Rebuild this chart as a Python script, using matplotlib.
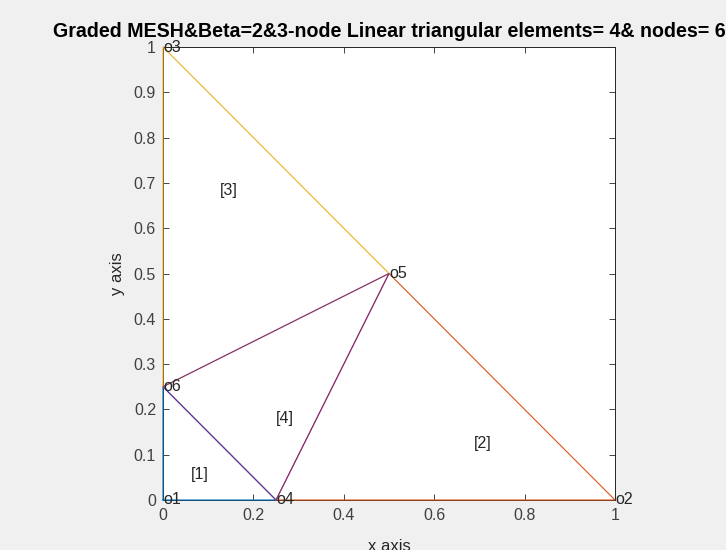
import matplotlib
matplotlib.use("Agg")
import matplotlib.pyplot as plt
import numpy as np

node_x = [0, 1, 0, 0.25, 0.5, 0]
node_y = [0, 0, 1, 0, 0.5, 0.25]
node_labels = ["o1", "o2", "o3", "o4", "o5", "o6"]
elements = [[1, 4, 6], [4, 2, 5], [6, 5, 3], [4, 5, 6]]
elem_colors = ["#0072BD", "#D95319", "#EDB120", "#7E2F8E"]
elem_label_x = [0.082, 0.708, 0.146, 0.270]
elem_label_y = [0.057, 0.124, 0.684, 0.181]
elem_labels = ["[1]", "[2]", "[3]", "[4]"]
x_ticks = [0, 0.2, 0.4, 0.6, 0.8, 1]
y_ticks = [0, 0.1, 0.2, 0.3, 0.4, 0.5, 0.6, 0.7, 0.8, 0.9, 1]
title = "Graded MESH&Beta=2&3-node Linear triangular elements= 4& nodes= 6"

plt.rcParams['font.family'] = ['Liberation Sans', 'DejaVu Sans']
fig = plt.figure(figsize=(7.26, 5.5), dpi=100, facecolor="#F0F0F0")
ax = fig.add_axes([163/726, 50/550, 452/726, 453/550])
ax.set_facecolor("white")

for k, (el, c) in enumerate(zip(elements, elem_colors)):
    idx = [i - 1 for i in el] + [el[0] - 1]
    ax.plot([node_x[i] for i in idx], [node_y[i] for i in idx], color=c,
            linewidth=0.8, clip_on=False, zorder=3 + 0.1 * k)

for x, y, t in zip(node_x, node_y, node_labels):
    ax.text(x, y, t, ha="left", va="center", fontsize=11.5, color="#262626",
            clip_on=False, zorder=4)

for x, y, t in zip(elem_label_x, elem_label_y, elem_labels):
    ax.text(x, y, t, ha="center", va="center", fontsize=11.5, color="#262626")

ax.set_xlim(0, 1)
ax.set_ylim(0, 1)
ax.set_xticks(x_ticks)
ax.set_yticks(y_ticks)
ax.set_xticklabels([f"{v:g}" for v in x_ticks])
ax.set_yticklabels([f"{v:g}" for v in y_ticks])
ax.tick_params(direction="in", length=4, width=0.6, colors="#262626",
               labelsize=11.5, top=True, right=True, labeltop=False, labelright=False)
ax.tick_params(axis="x", pad=6, labelcolor="#404040")
ax.tick_params(axis="y", pad=5, labelcolor="#404040")
for s in ax.spines.values():
    s.set_color("#262626")
    s.set_linewidth(0.7)

ax.set_xlabel("x axis", fontsize=12, color="#262626", labelpad=11)
ax.set_ylabel("y axis", fontsize=12, color="#262626", labelpad=6)
ax.set_title(title, fontsize=14.1, fontweight="bold", color="black", pad=7)

fig.savefig("out.png", dpi=100, facecolor=fig.get_facecolor())
